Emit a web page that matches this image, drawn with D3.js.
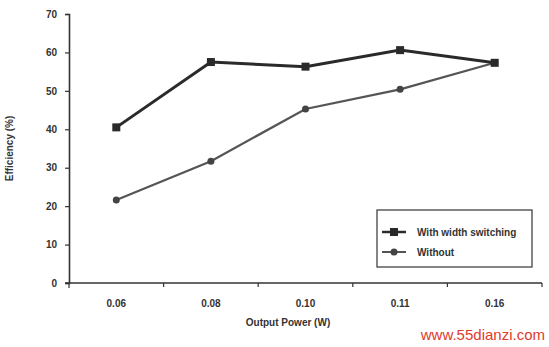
<!DOCTYPE html>
<html>
<head>
<meta charset="utf-8">
<script src="https://cdn.jsdelivr.net/npm/d3@7"></script>
<style>
  body { margin: 0; background: #fff; }
  text { font-family: "Liberation Sans Narrow", "Liberation Sans", Arial, sans-serif; font-weight: bold; fill: #333; }
</style>
</head>
<body>
<script>
const width = 549;
const height = 347;

const categories = ["0.06", "0.08", "0.10", "0.11", "0.16"];
const withSwitching = [40.5, 57.5, 56.3, 60.6, 57.3];
const without = [21.6, 31.7, 45.3, 50.4, 57.3];
const yTicks = [0, 10, 20, 30, 40, 50, 60, 70];
const seriesNames = ["With width switching", "Without"];

const margin = { left: 69, right: 7, top: 14, bottom: 64 };

const svg = d3.select("body").append("svg")
  .attr("width", width)
  .attr("height", height);

const x = d3.scaleBand()
  .domain(categories)
  .range([margin.left, width - margin.right]);

const y = d3.scaleLinear()
  .domain([0, 70])
  .range([height - margin.bottom, margin.top]);

// y axis
const yAxis = svg.append("g")
  .attr("transform", `translate(${margin.left},0)`)
  .call(d3.axisLeft(y).tickValues(yTicks).tickSize(4).tickPadding(8));
yAxis.select(".domain").attr("stroke", "#333").attr("stroke-width", 1.6);
yAxis.selectAll(".tick line").attr("stroke", "#333").attr("stroke-width", 1.2);
yAxis.selectAll(".tick text").attr("font-size", 10).attr("fill", "#333");

// x axis with ticks at band boundaries
const xAxisY = y(0);
const xg = svg.append("g");
xg.append("line")
  .attr("x1", margin.left - 4).attr("x2", width - margin.right)
  .attr("y1", xAxisY).attr("y2", xAxisY)
  .attr("stroke", "#333").attr("stroke-width", 1.6);
xg.selectAll("line.tk")
  .data(categories)
  .join("line")
  .attr("class", "tk")
  .attr("x1", d => x(d) + x.bandwidth())
  .attr("x2", d => x(d) + x.bandwidth())
  .attr("y1", xAxisY).attr("y2", xAxisY + 4)
  .attr("stroke", "#333").attr("stroke-width", 1.2);
xg.append("line")
  .attr("x1", margin.left).attr("x2", margin.left)
  .attr("y1", xAxisY).attr("y2", xAxisY + 5)
  .attr("stroke", "#333").attr("stroke-width", 1.2);
xg.selectAll("text")
  .data(categories)
  .join("text")
  .attr("x", d => x(d) + x.bandwidth() / 2)
  .attr("y", xAxisY + 24)
  .attr("text-anchor", "middle")
  .attr("font-size", 10)
  .text(d => d);

// axis titles
svg.append("text")
  .attr("transform", `translate(13,${(y(0) + y(70)) / 2}) rotate(-90)`)
  .attr("text-anchor", "middle")
  .attr("font-size", 10)
  .text("Efficiency (%)");

svg.append("text")
  .attr("x", 288)
  .attr("y", 326)
  .attr("text-anchor", "middle")
  .attr("font-size", 10)
  .text("Output Power (W)");

const cx = (d, i) => x(categories[i]) + x.bandwidth() / 2;
const line = d3.line().x(cx).y(d => y(d));

// Without series
svg.append("path")
  .datum(without)
  .attr("d", line)
  .attr("fill", "none")
  .attr("stroke", "#555")
  .attr("stroke-width", 2.2);
svg.selectAll("circle.wo")
  .data(without)
  .join("circle")
  .attr("class", "wo")
  .attr("cx", cx)
  .attr("cy", d => y(d))
  .attr("r", 3.5)
  .attr("fill", "#444");

// With switching series
svg.append("path")
  .datum(withSwitching)
  .attr("d", line)
  .attr("fill", "none")
  .attr("stroke", "#2a2a2a")
  .attr("stroke-width", 3);
svg.selectAll("rect.ws")
  .data(withSwitching)
  .join("rect")
  .attr("class", "ws")
  .attr("x", (d, i) => cx(d, i) - 4)
  .attr("y", d => y(d) - 4)
  .attr("width", 8)
  .attr("height", 8)
  .attr("fill", "#2a2a2a");

// legend
const lg = svg.append("g").attr("transform", "translate(377,210)");
lg.append("rect")
  .attr("width", 155).attr("height", 57)
  .attr("fill", "#fff")
  .attr("stroke", "#444").attr("stroke-width", 1.3);
seriesNames.forEach((name, i) => {
  const ly = 22 + i * 20;
  lg.append("line")
    .attr("x1", 5).attr("x2", 29).attr("y1", ly).attr("y2", ly)
    .attr("stroke", i === 0 ? "#2a2a2a" : "#555")
    .attr("stroke-width", i === 0 ? 2.5 : 2);
  if (i === 0) {
    lg.append("rect").attr("x", 13).attr("y", ly - 4).attr("width", 8).attr("height", 8).attr("fill", "#2a2a2a");
  } else {
    lg.append("circle").attr("cx", 17).attr("cy", ly).attr("r", 3.5).attr("fill", "#444");
  }
  lg.append("text")
    .attr("x", 40).attr("y", ly + 3.5)
    .attr("font-size", 10)
    .text(name);
});

// watermark
svg.append("text")
  .attr("x", 545)
  .attr("y", 340)
  .attr("text-anchor", "end")
  .attr("font-size", 15)
  .attr("font-family", "Liberation Sans, Arial, sans-serif")
  .style("font-weight", "normal")
  .style("fill", "#e03a2c")
  .text("www.55dianzi.com");
</script>
</body>
</html>
